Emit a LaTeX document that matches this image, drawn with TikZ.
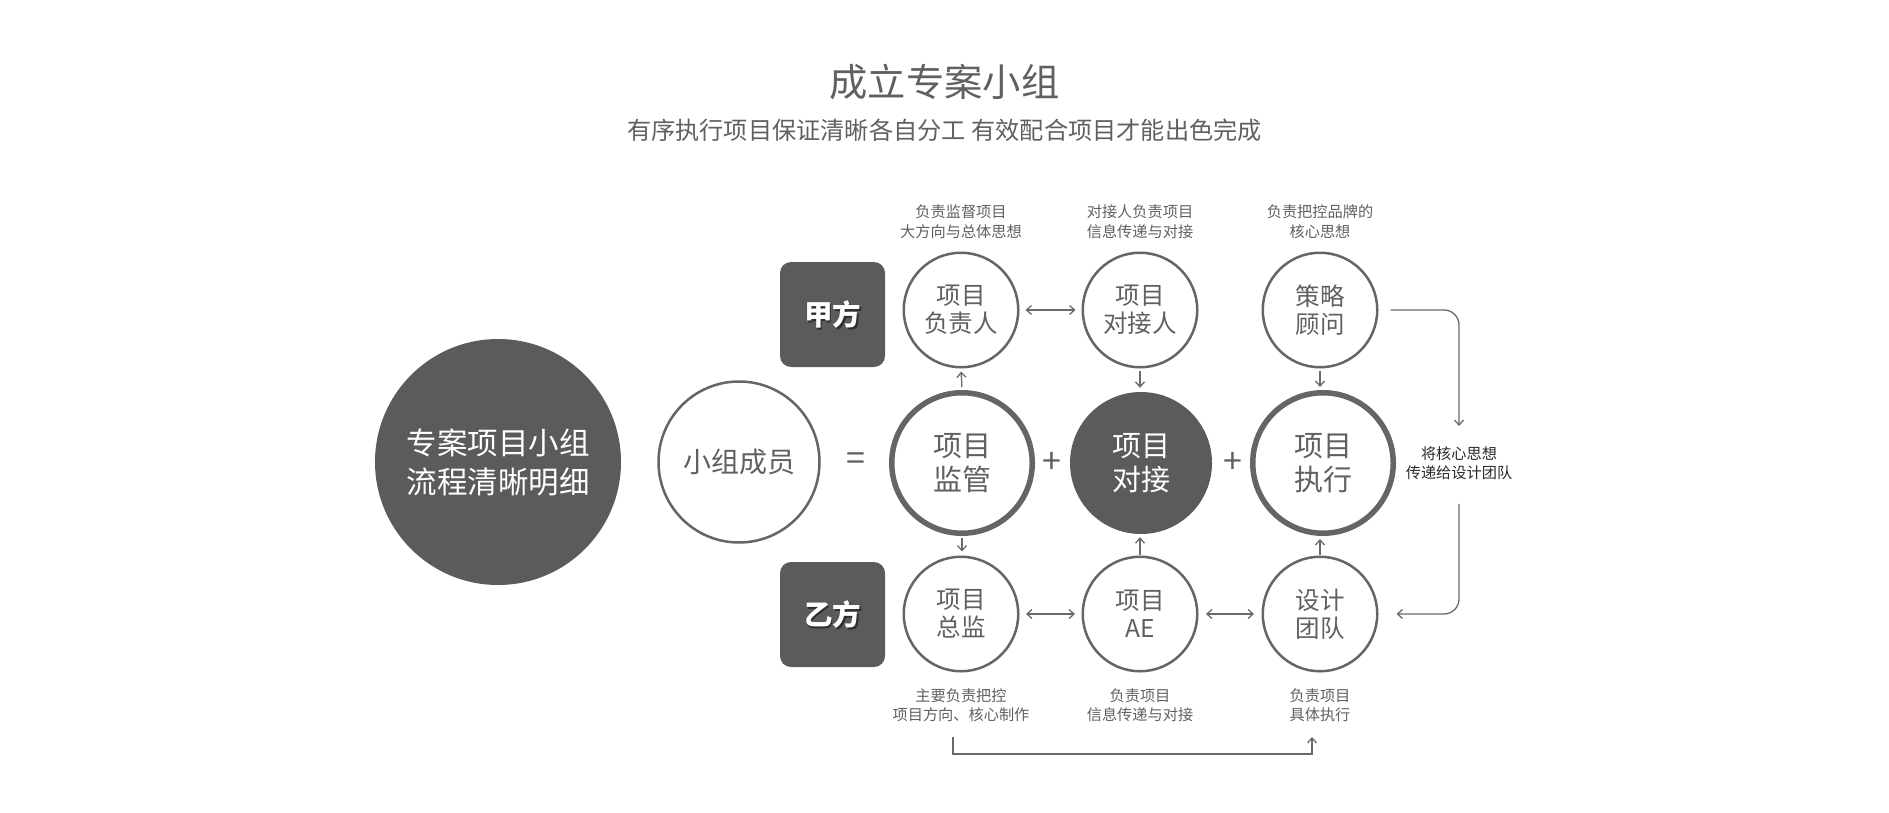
\documentclass[tikz,border=0pt]{standalone}
\usepackage{fontspec}
\setmainfont{Noto Sans CJK SC}
\usetikzlibrary{arrows.meta}
\definecolor{dgray}{HTML}{5C5B5C}
\definecolor{cgray}{HTML}{666566}
\definecolor{tgray}{HTML}{606060}
\definecolor{lgray}{HTML}{6A6A6A}
\definecolor{ngray}{HTML}{2A2A2A}
\definecolor{sgray}{HTML}{2E2E2E}
\tikzset{
  small/.style={circle, draw=cgray, line width=2.5pt, minimum size=114.5pt, inner sep=0pt, align=center, text=tgray, font=\fontsize{24.5}{28}\selectfont},
  ring/.style={circle, draw=cgray, line width=5.5pt, minimum size=140.5pt, inner sep=0pt, align=center, text=tgray, font=\fontsize{29}{34}\selectfont},
  darkc/.style={circle, fill=dgray, minimum size=142pt, inner sep=0pt, align=center, text=white, font=\fontsize{29}{34}\selectfont},
  sidebox/.style={rectangle, rounded corners=11pt, fill=dgray, minimum size=105pt, inner sep=0pt},
  boxtext/.style={text=white, font=\bfseries\fontsize{28.5}{30}\selectfont, inner sep=0pt},
  boxshadow/.style={text=sgray, font=\bfseries\fontsize{28.5}{30}\selectfont, inner sep=0pt},
  lab/.style={align=center, text=tgray, font=\fontsize{15.2}{19.5}\selectfont, inner sep=0pt},
  sym/.style={text=tgray, font=\fontsize{34}{34}\selectfont, inner sep=0pt},
  conn/.style={draw=lgray, line width=1.3pt},
  tip/.style={-{Straight Barb[length=5pt,width=9pt]}},
  dtip/.style={{Straight Barb[length=5pt,width=9pt]}-{Straight Barb[length=5pt,width=9pt]}},
}
\begin{document}
\begin{tikzpicture}[x=1pt,y=-1pt]
\useasboundingbox (0,0) rectangle (1889,813);
% titles
\node[text=tgray, font=\fontsize{38.3}{40}\selectfont, inner sep=0pt] (title) at (944.5,82) {成立专案小组};
\node[text=tgray, font=\fontsize{24.2}{26}\selectfont, inner sep=0pt] (subtitle) at (944.5,130) {有序执行项目保证清晰各自分工\ 有效配合项目才能出色完成};
% big circle
\node[circle, fill=dgray, minimum size=246pt, inner sep=0pt, align=center, text=white, font=\fontsize{30.5}{39}\selectfont] (big) at (498,462) {专案项目小组\\流程清晰明细};
% members
\node[circle, draw=cgray, line width=2.5pt, minimum size=161pt, inner sep=0pt, text=tgray, font=\fontsize{28}{32}\selectfont] (mem) at (739,462) {小组成员};
\node[sym] (eq) at (856,462) {=};
% side boxes
\node[sidebox] (jia) at (832.5,314.5) {};
\node[boxshadow] (jiash) at (834,316) {甲方};
\node[boxtext] (jiat) at (832.5,314.5) {甲方};
\node[sidebox] (yi) at (832.5,614.5) {};
\node[boxshadow] (yish) at (834,616) {乙方};
\node[boxtext] (yit) at (832.5,614.5) {乙方};
% top row
\node[small] (lead) at (961,310) {项目\\负责人};
\node[small] (cont) at (1140,310) {项目\\对接人};
\node[small] (strat) at (1320,310) {策略\\顾问};
% middle row
\node[ring] (mon) at (962,463) {项目\\监管};
\node[darkc] (dock) at (1141,463) {项目\\对接};
\node[ring] (exe) at (1323,463) {项目\\执行};
\node[sym] (plus1) at (1052,463) {+};
\node[sym] (plus2) at (1233,463) {+};
% bottom row
\node[small] (dir) at (961,614) {项目\\总监};
\node[small] (ae) at (1140,614) {项目\\AE};
\node[small] (des) at (1320,614) {设计\\团队};
% labels
\node[lab] (l1) at (961,221.5) {负责监督项目\\大方向与总体思想};
\node[lab] (l2) at (1140,221.5) {对接人负责项目\\信息传递与对接};
\node[lab] (l3) at (1320,221.5) {负责把控品牌的\\核心思想};
\node[lab] (l4) at (961,705) {主要负责把控\\项目方向、核心制作};
\node[lab] (l5) at (1140,705) {负责项目\\信息传递与对接};
\node[lab] (l6) at (1320,705) {负责项目\\具体执行};
\node[lab, text=ngray] (note) at (1459,463) {将核心思想\\传递给设计团队};
% horizontal double arrows
\draw[conn, dtip, shorten <=6pt, shorten >=6pt] (lead) -- (cont);
\draw[conn, dtip, shorten <=6.5pt, shorten >=6.5pt] (dir) -- (ae);
\draw[conn, dtip, shorten <=7.5pt, shorten >=7.5pt] (ae) -- (des);
% vertical arrows
\draw[conn, tip, shorten <=3pt, shorten >=3pt] (mon.north) -- (lead.south);
\draw[conn, tip, shorten <=2pt, shorten >=4pt] (cont.south) -- (cont.south |- dock.north);
\draw[conn, tip, shorten <=2pt, shorten >=3pt] (strat.south) -- (strat.south |- exe.north);
\draw[conn, tip, shorten <=2pt, shorten >=4pt] (mon.south) -- (mon.south |- dir.north);
\draw[conn, tip, shorten <=1pt, shorten >=3pt] (ae.north) -- (ae.north |- dock.south);
\draw[conn, tip, shorten <=1pt, shorten >=3pt] (des.north) -- (des.north |- exe.south);
% right connector
\draw[conn, tip, rounded corners=15pt, shorten <=12pt, shorten >=20pt] (strat.east) -| (note.north);
\draw[conn, tip, rounded corners=15pt, shorten <=24pt, shorten >=18pt] (note.south) |- (des.east);
% bottom bracket
\coordinate (bl) at (953,737);
\coordinate (br) at (1312,737);
\draw[conn, tip] (bl) -- ++(0,17) -| (br);
\end{tikzpicture}
\end{document}
